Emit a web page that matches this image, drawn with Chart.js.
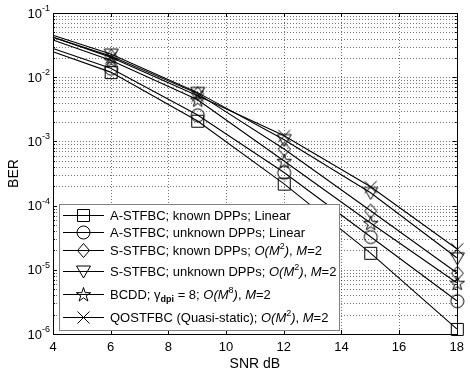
<!DOCTYPE html>
<html><head><meta charset="utf-8">
<script src="https://cdn.jsdelivr.net/npm/chart.js@4"></script>
<style>html,body{margin:0;padding:0;background:#fff}#w{width:470px;height:376px}</style>
</head><body><div id="w"><canvas id="c" width="470" height="376"></canvas></div>
<script>
// ---- data ----
const snr = [4, 6, 9, 12, 15, 18];
const aKnown   = [0.025, 0.0120, 2.1e-3, 2.2e-4, 1.84e-5, 1.2e-6];
const aUnknown = [0.028, 0.0138, 2.6e-3, 3.3e-4, 3.3e-5, 3.3e-6];
const sKnown   = [0.042, 0.0213, 5.6e-3, 7.7e-4, 8.4e-5, 9.0e-6];
const sUnknown = [0.045, 0.0229, 5.8e-3, 1.07e-3, 1.6e-4, 1.54e-5];
const bcdd     = [0.038, 0.0184, 4.5e-3, 5.0e-4, 5.4e-5, 6.3e-6];
const qostfbc  = [0.042, 0.0205, 5.2e-3, 1.24e-3, 1.98e-4, 2.13e-5];
const xTicks = [4, 6, 8, 10, 12, 14, 16, 18];
const yDecades = [-6, -5, -4, -3, -2, -1];
const xTitle = 'SNR dB';
const yTitle = 'BER';
const FONT = '"Liberation Sans", Arial, sans-serif';

// ---- marker images ----
function mk(draw) {
  const c = document.createElement('canvas');
  c.width = 20; c.height = 20;
  const g = c.getContext('2d');
  g.strokeStyle = '#000'; g.lineWidth = 1;
  g.beginPath(); draw(g); g.stroke();
  return c;
}
const mSquare = mk(g => g.rect(4.5, 4.5, 12, 12));
const mCircle = mk(g => g.arc(10.5, 10.5, 6.5, 0, Math.PI * 2));
const mDiamond = mk(g => { g.moveTo(10.5, 3.5); g.lineTo(16.5, 10.5); g.lineTo(10.5, 17.5); g.lineTo(4.5, 10.5); g.closePath(); });
const mTriDown = mk(g => { g.moveTo(3.5, 5); g.lineTo(17.5, 5); g.lineTo(10.5, 17); g.closePath(); });
const mStar = mk(g => {
  const R = 7.5, r = R * 0.382;
  for (let i = 0; i < 10; i++) {
    const a = -Math.PI / 2 + i * Math.PI / 5;
    const rr = i % 2 ? r : R;
    const x = 10.5 + rr * Math.cos(a), y = 11 + rr * Math.sin(a);
    i ? g.lineTo(x, y) : g.moveTo(x, y);
  }
  g.closePath();
});
const mX = mk(g => { g.moveTo(4.5, 4.5); g.lineTo(16.5, 16.5); g.moveTo(16.5, 4.5); g.lineTo(4.5, 16.5); });

const series = [
  { data: aKnown, marker: mSquare },
  { data: aUnknown, marker: mCircle },
  { data: sKnown, marker: mDiamond },
  { data: sUnknown, marker: mTriDown },
  { data: bcdd, marker: mStar },
  { data: qostfbc, marker: mX }
];

// legend rich text: [text, style]
const legendItems = [
  [['A-STFBC; known DPPs; Linear', 'n']],
  [['A-STFBC; unknown DPPs; Linear', 'n']],
  [['S-STFBC; known DPPs; ', 'n'], ['O(M', 'i'], ['2', 'sup'], [')', 'i'], [', ', 'n'], ['M', 'i'], ['=2', 'n']],
  [['S-STFBC; unknown DPPs; ', 'n'], ['O(M', 'i'], ['2', 'sup'], [')', 'i'], [', ', 'n'], ['M', 'i'], ['=2', 'n']],
  [['BCDD; ', 'n'], ['\u03B3', 'n'], ['dpi', 'sub'], [' = 8; ', 'n'], ['O(M', 'i'], ['8', 'sup'], [')', 'i'], [', ', 'n'], ['M', 'i'], ['=2', 'n']],
  [['QOSTFBC (Quasi-static); ', 'n'], ['O(M', 'i'], ['2', 'sup'], [')', 'i'], [', ', 'n'], ['M', 'i'], ['=2', 'n']]
];
const legendRowsY = [215, 232, 250, 271, 294, 317];

const decorPlugin = {
  id: 'decor',
  beforeDatasetsDraw(chart) {
    const { ctx, chartArea: a, scales: { x, y } } = chart;
    ctx.save();
    ctx.strokeStyle = 'rgba(0,0,0,0.55)';
    ctx.lineWidth = 1;
    ctx.setLineDash([1, 2]);
    ctx.beginPath();
    xTicks.forEach(v => {
      const px = Math.round(x.getPixelForValue(v)) + 0.5;
      if (v > 4 && v < 18) { ctx.moveTo(px, a.top); ctx.lineTo(px, a.bottom); }
    });
    yDecades.forEach(e => {
      for (let k = 1; k <= 9; k++) {
        const v = k * Math.pow(10, e);
        if (v > 0.1 || v <= 1e-6) continue;
        if (e === -1 && k > 1) continue;
        const py = Math.round(y.getPixelForValue(v)) + 0.5;
        ctx.moveTo(a.left, py); ctx.lineTo(a.right, py);
      }
    });
    ctx.stroke();
    ctx.restore();
  },
  afterDatasetsDraw(chart) {
    const { ctx, chartArea: a, scales: { x, y } } = chart;
    ctx.save();
    ctx.strokeStyle = '#000';
    ctx.lineWidth = 1;
    ctx.setLineDash([]);
    // ticks
    ctx.beginPath();
    xTicks.forEach(v => {
      const px = Math.round(x.getPixelForValue(v)) + 0.5;
      ctx.moveTo(px, a.bottom); ctx.lineTo(px, a.bottom - 4);
      ctx.moveTo(px, a.top); ctx.lineTo(px, a.top + 4);
    });
    yDecades.forEach(e => {
      for (let k = 1; k <= 9; k++) {
        const v = k * Math.pow(10, e);
        if (v > 0.1 + 1e-12) continue;
        const py = Math.round(y.getPixelForValue(v)) + 0.5;
        const L = k === 1 ? 4 : 2;
        ctx.moveTo(a.left, py); ctx.lineTo(a.left + L, py);
        ctx.moveTo(a.right, py); ctx.lineTo(a.right - L, py);
      }
    });
    ctx.stroke();
    // border
    ctx.strokeRect(Math.round(a.left) + 0.5, Math.round(a.top) + 0.5,
      Math.round(a.right) - Math.round(a.left), Math.round(a.bottom) - Math.round(a.top));
    // y tick labels 10^e
    ctx.fillStyle = '#000';
    yDecades.forEach(e => {
      const py = y.getPixelForValue(Math.pow(10, e));
      ctx.font = '9px ' + FONT;
      const ex = String(e);
      const ew = ctx.measureText(ex).width;
      const right = 50;
      ctx.textAlign = 'left'; ctx.textBaseline = 'alphabetic';
      ctx.fillText(ex, right - ew, py - 2);
      ctx.font = '13px ' + FONT;
      ctx.textAlign = 'right'; ctx.textBaseline = 'middle';
      ctx.fillText('10', right - ew, py + 1);
    });
    // legend
    const L = { x: 59.5, y: 204.5, w: 280, h: 126 };
    ctx.fillStyle = '#fff';
    ctx.fillRect(L.x, L.y, L.w, L.h);
    ctx.strokeStyle = '#808080';
    ctx.strokeRect(L.x, L.y, L.w, L.h);
    legendItems.forEach((parts, i) => {
      const ry = legendRowsY[i];
      ctx.strokeStyle = '#000';
      ctx.beginPath(); ctx.moveTo(63, ry + 0.5); ctx.lineTo(104, ry + 0.5); ctx.stroke();
      const m = series[i].marker;
      ctx.drawImage(m, 83 - 10, ry - 10);
      let tx = 110;
      ctx.fillStyle = '#000';
      ctx.textAlign = 'left'; ctx.textBaseline = 'alphabetic';
      const base = ry + 5;
      parts.forEach(([t, s]) => {
        let f = '13px ' + FONT, dy = 0;
        if (s === 'i') f = 'italic 13px ' + FONT;
        if (s === 'sup') { f = '9px ' + FONT; dy = -6; }
        if (s === 'sub') { f = 'bold 9px ' + FONT; dy = 3; }
        ctx.font = f;
        ctx.fillText(t, tx, base + dy);
        tx += ctx.measureText(t).width;
      });
    });
    ctx.restore();
  }
};

const datasets = series.map(s => ({
  data: snr.map((v, i) => ({ x: v, y: s.data[i] })),
  borderColor: '#000',
  borderWidth: 1.1,
  backgroundColor: 'rgba(0,0,0,0)',
  pointStyle: s.marker,
  pointRadius: snr.map((v, i) => i === 0 ? 0 : 6),
  pointHoverRadius: 6,
  tension: 0,
  clip: false,
  fill: false
}));

new Chart(document.getElementById('c'), {
  type: 'line',
  data: { datasets },
  options: {
    responsive: false,
    animation: false,
    devicePixelRatio: 1,
    layout: { padding: { top: 13, right: 9, left: 0, bottom: 0 } },
    plugins: { legend: { display: false }, tooltip: { enabled: false }, title: { display: false } },
    scales: {
      x: {
        type: 'linear', min: 4, max: 18,
        ticks: { stepSize: 2, color: '#000', font: { family: FONT, size: 13 }, padding: 6, maxRotation: 0, autoSkip: false },
        grid: { display: false, drawTicks: false },
        border: { display: false },
        title: { display: true, text: xTitle, color: '#000', font: { family: FONT, size: 14 }, padding: { top: 0, bottom: 3 } },
        afterFit: s => { s.height = 42; }
      },
      y: {
        type: 'logarithmic', min: 1e-6, max: 1e-1,
        ticks: { display: false },
        grid: { display: false, drawTicks: false },
        border: { display: false },
        title: { display: true, text: yTitle, color: '#000', font: { family: FONT, size: 14 }, padding: { top: 6, bottom: 0 } },
        afterFit: s => { s.width = 53; }
      }
    }
  },
  plugins: [decorPlugin]
});
</script>
</body></html>
